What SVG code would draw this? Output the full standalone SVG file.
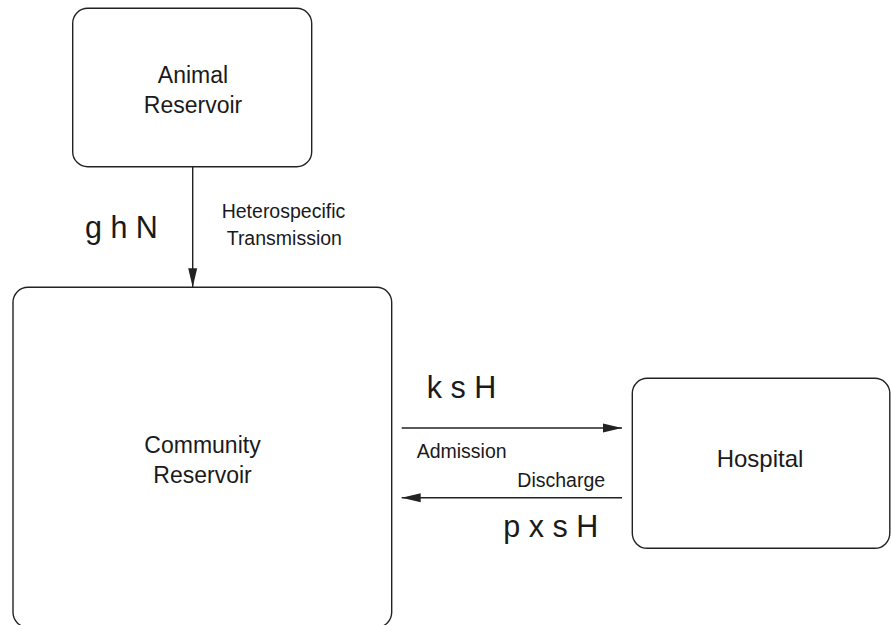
<svg xmlns="http://www.w3.org/2000/svg" width="891" height="625" viewBox="0 0 891 625">
<style>
.box{fill:#fff;stroke:#222;stroke-width:1.4}
.t{font-family:"Liberation Sans",Arial,sans-serif;fill:#1a1a1a}
.node{font-size:23px;text-anchor:middle}
.lab{font-size:19.5px}
.rate{font-size:30.5px}
.conn{stroke:#222;stroke-width:1.4;fill:none;marker-end:url(#ah)}
</style>
<defs>
<marker id="ah" markerUnits="userSpaceOnUse" markerWidth="20" markerHeight="10" refX="19" refY="5" orient="auto">
<path d="M0,0.5 L19,5 L0,9.5 Z" fill="#222"/>
</marker>
</defs>
<rect width="891" height="625" fill="#fff"/>
<g id="animal">
<rect class="box" x="72.7" y="8.3" width="239" height="158.4" rx="15"/>
<text class="t node" x="193" y="83.3">Animal</text>
<text class="t node" x="193" y="113.3">Reservoir</text>
</g>
<g id="community">
<rect class="box" x="13" y="287.3" width="378.7" height="340" rx="15"/>
<text class="t node" x="202.5" y="453.3">Community</text>
<text class="t node" x="202.5" y="483.3">Reservoir</text>
</g>
<g id="hospital">
<rect class="box" x="632.3" y="378.3" width="257.5" height="170" rx="15"/>
<text class="t node" x="760" y="467.3" style="font-size:24px">Hospital</text>
</g>
<g id="connectors">
<line class="conn" x1="192.7" y1="166.7" x2="192.7" y2="287.3"/>
<line class="conn" x1="401.7" y1="428" x2="622" y2="428"/>
<line class="conn" x1="622" y1="497.7" x2="401.7" y2="497.7"/>
</g>
<g id="labels">
<text class="t rate" x="85" y="238.3">g h N</text>
<text class="t lab" x="221.7" y="218.3">Heterospecific</text>
<text class="t lab" x="226.7" y="245">Transmission</text>
<text class="t rate" x="426.7" y="398.3">k s H</text>
<text class="t lab" x="416.7" y="457.7">Admission</text>
<text class="t lab" x="517.3" y="486.5">Discharge</text>
<text class="t rate" x="503.3" y="537.3">p x s H</text>
</g>
</svg>
